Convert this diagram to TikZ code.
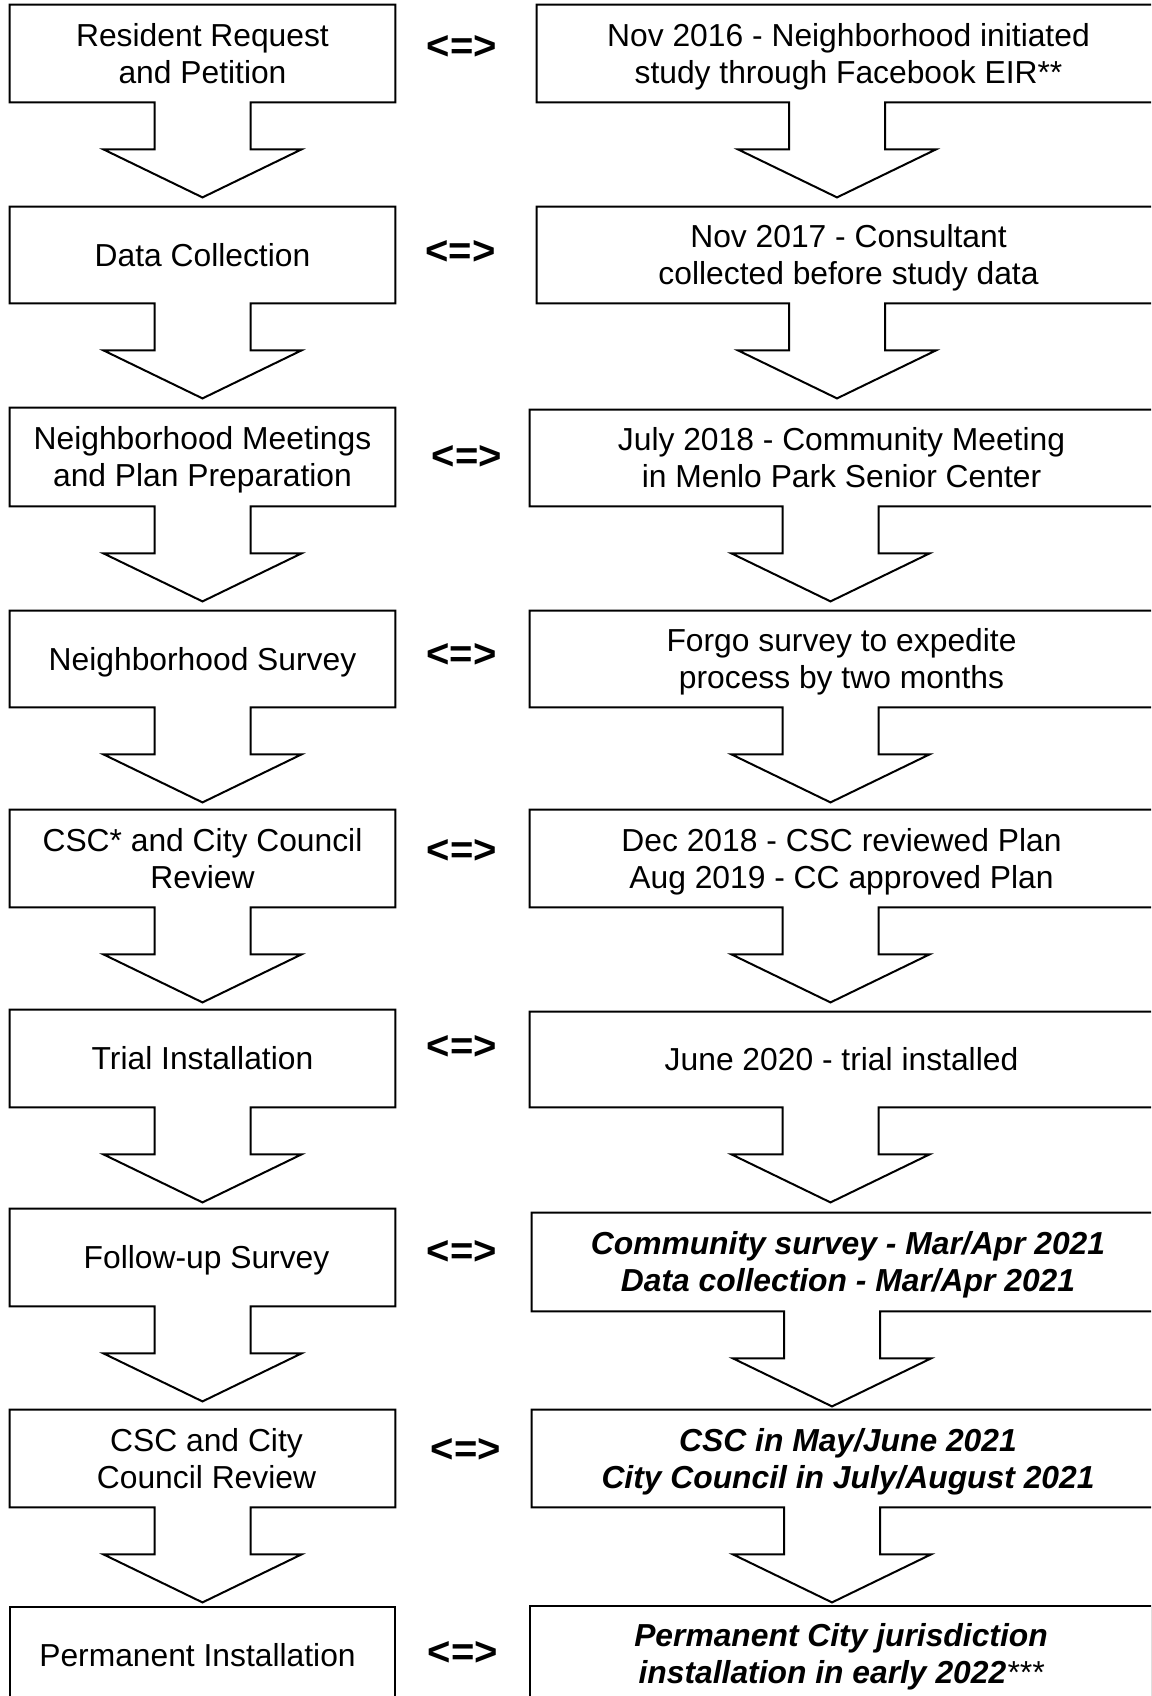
\documentclass[tikz,border=0pt]{standalone}
\usepackage{fontspec}
\setmainfont{Liberation Sans}
\usetikzlibrary{calc}
\newcommand\flowoutline[2]{%
  \draw[outl] (#1.south west) -- (#1.north west) -- (#1.north east) -- (#1.south east)
    -- ($(#1.south)+(#2+48,0)$) -- ($(#1.south)+(#2+48,47)$) -- ($(#1.south)+(#2+99,47)$)
    -- ($(#1.south)+(#2,95)$) -- ($(#1.south)+(#2-99,47)$) -- ($(#1.south)+(#2-48,47)$)
    -- ($(#1.south)+(#2-48,0)$) -- cycle;}
\newcommand\fs{\rule[-3.55pt]{0pt}{18.5pt}}
\tikzset{
  txt/.style={font=\fontsize{15.9}{18.5}\selectfont, align=center},
  bitxt/.style={font=\fontsize{15.9}{18.5}\selectfont\bfseries\itshape, align=center},
  outl/.style={line width=1pt, line join=miter},
  lbox/.style={rectangle, inner sep=0pt, minimum width=192.5pt, txt},
  rbox/.style={rectangle, inner sep=0pt, minimum width=311.5pt, txt},
  eqsign/.style={inner sep=0pt, font=\fontsize{20}{24}\selectfont\bfseries}
}
\begin{document}
\begin{tikzpicture}[x=0.5pt,y=-0.5pt]
\useasboundingbox (0,0) rectangle (1151,1696);
\fill[white] (0,0) rectangle (1151,1696);
\clip (0,0) rectangle (1151,1696);

% left column
\node[lbox, minimum height=48.5pt] (L1) at (202.5,53.5) {\fs Resident Request\\\fs and Petition};
\node[lbox, minimum height=48pt] (L2) at (202.5,255) {\fs Data Collection};
\node[lbox, minimum height=49pt] (L3) at (202.5,457) {\fs Neighborhood Meetings\\\fs and Plan Preparation};
\node[lbox, minimum height=48pt] (L4) at (202.5,659) {\fs Neighborhood Survey};
\node[lbox, minimum height=48.5pt] (L5) at (202.5,858.5) {\fs CSC* and City Council\\\fs Review};
\node[lbox, minimum height=48.5pt] (L6) at (202.5,1058.5) {\fs Trial Installation};
\node[lbox, minimum height=48.5pt] (L7) at (202.5,1257.5) {\fs\hspace*{4pt}Follow-up Survey};
\node[lbox, minimum height=48.5pt] (L8) at (202.5,1458.5) {\fs\hspace*{4pt}CSC and City\\\fs\hspace*{4pt}Council Review};
\node[lbox, minimum height=48pt] (L9) at (202.5,1655) {\fs Permanent Installation\hspace*{5pt}};

% right column
\node[rbox, minimum height=48.5pt] (R1) at (848.5,53.5) {\fs Nov 2016 - Neighborhood initiated\\\fs study through Facebook EIR**};
\node[rbox, minimum height=48pt] (R2) at (848.5,255) {\fs Nov 2017 - Consultant\\\fs collected before study data};
\node[rbox, minimum height=48pt] (R3) at (841.5,458) {\fs July 2018 - Community Meeting\\\fs in Menlo Park Senior Center};
\node[rbox, minimum height=48pt] (R4) at (841.5,659) {\fs Forgo survey to expedite\\\fs process by two months};
\node[rbox, minimum height=48.5pt] (R5) at (841.5,858.5) {\fs Dec 2018 - CSC reviewed Plan\\\fs Aug 2019 - CC approved Plan};
\node[rbox, minimum height=47.5pt] (R6) at (841.5,1059.5) {\fs June 2020 - trial installed};
\node[rbox, bitxt, minimum width=316pt, minimum height=49pt] (R7) at (848,1262) {\fs Community survey - Mar/Apr 2021\\\fs Data collection - Mar/Apr 2021};
\node[rbox, bitxt, minimum width=316pt, minimum height=48.5pt] (R8) at (848,1458.5) {\fs CSC in May/June 2021\\\fs City Council in July/August 2021};
\node[rbox, bitxt, minimum width=311pt, minimum height=48pt] (R9) at (841,1654) {\fs Permanent City jurisdiction\\\fs installation in early 2022{\mdseries***}};

% outlines with block arrows
\flowoutline{L1}{0}
\flowoutline{L2}{0}
\flowoutline{L3}{0}
\flowoutline{L4}{0}
\flowoutline{L5}{0}
\flowoutline{L6}{0}
\flowoutline{L7}{0}
\flowoutline{L8}{0}
\draw[outl] (L9.south west) rectangle (L9.north east);
\flowoutline{R1}{-11.5}
\flowoutline{R2}{-11.5}
\flowoutline{R3}{-11}
\flowoutline{R4}{-11}
\flowoutline{R5}{-11}
\flowoutline{R6}{-11}
\flowoutline{R7}{-16}
\flowoutline{R8}{-16}
\draw[outl] (R9.south west) rectangle (R9.north east);

% equivalence signs
\node[eqsign] (E1) at (462,48) {<=>};
\node[eqsign] (E2) at (460.5,252) {<=>};
\node[eqsign] (E3) at (467,457) {<=>};
\node[eqsign] (E4) at (461.5,655) {<=>};
\node[eqsign] (E5) at (462,851) {<=>};
\node[eqsign] (E6) at (462,1047) {<=>};
\node[eqsign] (E7) at (462,1252) {<=>};
\node[eqsign] (E8) at (466,1450) {<=>};
\node[eqsign] (E9) at (463,1653) {<=>};
\end{tikzpicture}
\end{document}
